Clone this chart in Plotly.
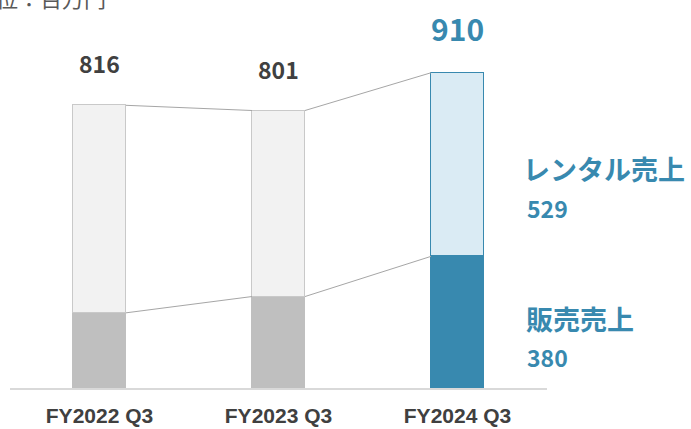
import plotly.graph_objects as go

categories = ["FY2022 Q3", "FY2023 Q3", "FY2024 Q3"]
sales = [217, 264, 380]      # 販売売上
rental = [599, 537, 529]     # レンタル売上
totals = [816, 801, 910]
unit_label = "単位：百万円"
rental_name = "レンタル売上"
sales_name = "販売売上"

BLUE = "#3889AF"
LIGHT_BLUE = "#DAEBF4"
GRAY = "#BFBFBF"
LIGHT_GRAY = "#F2F2F2"
GRAY_LINE = "#C9C9C9"
TXT = "#404040"
JP = "Noto Sans CJK JP"

xs = list(range(len(categories)))
bw = 0.296

fig = go.Figure()

# connector lines
for i in range(len(categories) - 1):
    for ya, yb in [(totals[i], totals[i + 1]), (sales[i], sales[i + 1])]:
        fig.add_trace(go.Scatter(
            x=[xs[i] + bw / 2, xs[i + 1] - bw / 2], y=[ya, yb],
            mode="lines", line=dict(color="#A6A6A6", width=1),
            hoverinfo="skip", showlegend=False))

fig.add_trace(go.Bar(
    x=xs, y=sales, width=bw, name=sales_name,
    marker=dict(color=[GRAY, GRAY, BLUE],
                line=dict(color=[GRAY, GRAY, BLUE], width=1.5)),
    showlegend=False))
fig.add_trace(go.Bar(
    x=xs, y=rental, width=bw, name=rental_name,
    marker=dict(color=[LIGHT_GRAY, LIGHT_GRAY, LIGHT_BLUE],
                line=dict(color=[GRAY_LINE, GRAY_LINE, BLUE], width=1.5)),
    showlegend=False))

annotations = []
for i, t in enumerate(totals):
    last = i == len(totals) - 1
    annotations.append(dict(
        x=xs[i], y=t, xref="x", yref="y", text=f"<b>{t}</b>",
        showarrow=False, yanchor="middle", yshift=45 if last else 42,
        font=dict(family=JP, size=30 if last else 23,
                  color=BLUE if last else TXT)))

li = len(categories) - 1
annotations += [
    dict(x=xs[li], y=633, xref="x", yref="y", text=f"<b>{rental_name}</b>",
         showarrow=False, xanchor="left", yanchor="middle", xshift=63,
         font=dict(family=JP, size=27, color=BLUE)),
    dict(x=xs[li], y=521, xref="x", yref="y", text=f"<b>{rental[li]}</b>",
         showarrow=False, xanchor="left", yanchor="middle", xshift=67,
         font=dict(family=JP, size=23, color=BLUE)),
    dict(x=xs[li], y=200, xref="x", yref="y", text=f"<b>{sales_name}</b>",
         showarrow=False, xanchor="left", yanchor="middle", xshift=66,
         font=dict(family=JP, size=27, color=BLUE)),
    dict(x=xs[li], y=89, xref="x", yref="y", text=f"<b>{sales[li]}</b>",
         showarrow=False, xanchor="left", yanchor="middle", xshift=67,
         font=dict(family=JP, size=23, color=BLUE)),
    dict(x=0, y=1, xref="paper", yref="paper", text=unit_label,
         showarrow=False, xanchor="right", yanchor="middle", xshift=98, yshift=3,
         font=dict(family=JP, size=22, color="#595959")),
]

fig.update_layout(
    width=691, height=429,
    margin=dict(l=10, r=144, t=0, b=41),
    paper_bgcolor="white", plot_bgcolor="white",
    barmode="stack", bargap=0,
    annotations=annotations,
    xaxis=dict(
        range=[-0.5, 2.5], tickmode="array", tickvals=xs, ticktext=[f"<b>{c}</b>" for c in categories],
        showline=True, linecolor="#D9D9D9", linewidth=2, showgrid=False, zeroline=False,
        ticks="", ticklabelstandoff=8,
        tickfont=dict(family="Liberation Sans", size=21, color=TXT)),
    yaxis=dict(range=[0, 1120], visible=False, showgrid=False, zeroline=False),
)

fig.write_html("out.html", config={"displayModeBar": False},
               post_script="document.body.style.margin='0';")
